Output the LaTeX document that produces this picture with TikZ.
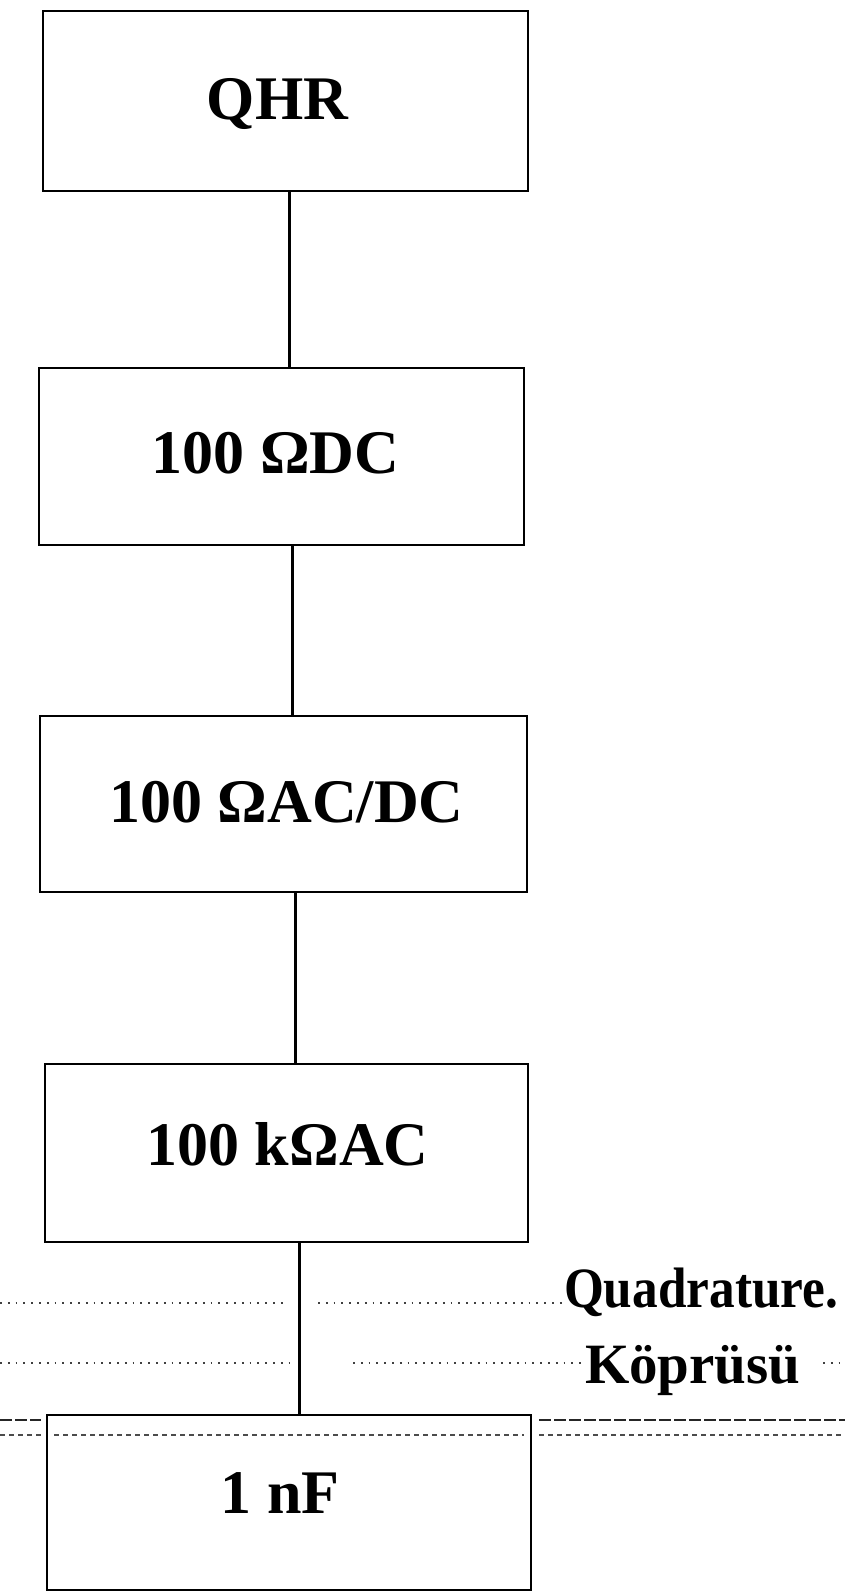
\documentclass[tikz,border=0pt]{standalone}
\usepackage{fontspec}
\setmainfont{Liberation Serif}
\begin{document}
\begin{tikzpicture}[x=1pt,y=-1pt,
  boxst/.style={draw=black, line width=2.6pt, rectangle, inner sep=0pt, outer sep=0pt, anchor=north west},
  lbl/.style={inner sep=0pt, outer sep=0pt, anchor=base, font=\bfseries\fontsize{62}{70}\selectfont},
  side/.style={inner sep=0pt, outer sep=0pt, anchor=base west, font=\bfseries\fontsize{57}{64}\selectfont},
  conn/.style={draw=black, line width=3pt},
  dotl/.style={draw=black!75, line width=1.8pt, dash pattern=on 1.8pt off 6pt},
  dashA/.style={draw=black!85, line width=2.4pt, dash pattern=on 12pt off 3pt},
  dashB/.style={draw=black!70, line width=1.8pt, dash pattern=on 5pt off 4pt}]
\useasboundingbox[fill=white] (0,0) rectangle (845,1592);

% boxes
\node[boxst, minimum width=485pt, minimum height=180pt] (qhr) at (43,11) {};
\node[boxst, minimum width=485pt, minimum height=177pt] (dc) at (39,368) {};
\node[boxst, minimum width=487pt, minimum height=176pt] (acdc) at (40,716) {};
\node[boxst, minimum width=483pt, minimum height=178pt] (kac) at (45,1064) {};
\node[boxst, minimum width=484pt, minimum height=175pt] (nf) at (47,1415) {};

% labels
\node[lbl] (tqhr) at (277.5,120) {QHR};
\node[lbl] (tdc) at (275.5,473) {100 ΩDC};
\node[lbl] (tacdc) at (286.5,822) {100 ΩAC/DC};
\node[lbl] (tkac) at (287.5,1165) {100 kΩAC};
\node[lbl] (tnf) at (280,1513) {1 nF};

% connectors
\draw[conn] ([xshift=3.5pt]qhr.south) -- ([xshift=3.5pt]qhr.south |- dc.north);
\draw[conn] ([xshift=10.5pt]dc.south) -- ([xshift=10.5pt]dc.south |- acdc.north);
\draw[conn] ([xshift=11.5pt]acdc.south) -- ([xshift=11.5pt]acdc.south |- kac.north);
\draw[conn] ([xshift=12.5pt]kac.south) -- ([xshift=12.5pt]kac.south |- nf.north);

% quadrature bridge markings
\node[side] (quad) at (564,1307) {\scalebox{0.9}[1]{Quadrature.}};
\node[side] (kopru) at (585,1383) {Köprüsü};
\draw[dotl] (0,1303) -- (287,1303);
\draw[dotl] (318,1303) -- (562,1303);
\draw[dotl] (0,1363) -- (292,1363);
\draw[dotl] (353,1363) -- (582,1363);
\draw[dotl] (823,1363) -- (845,1363);
\draw[dashA] (0,1420) -- (41,1420);
\draw[dashA] (539,1420) -- (845,1420);
\draw[dashB] (0,1435) -- (41,1435);
\draw[dashB] (54,1435) -- (524,1435);
\draw[dashB] (539,1435) -- (845,1435);
\end{tikzpicture}
\end{document}
